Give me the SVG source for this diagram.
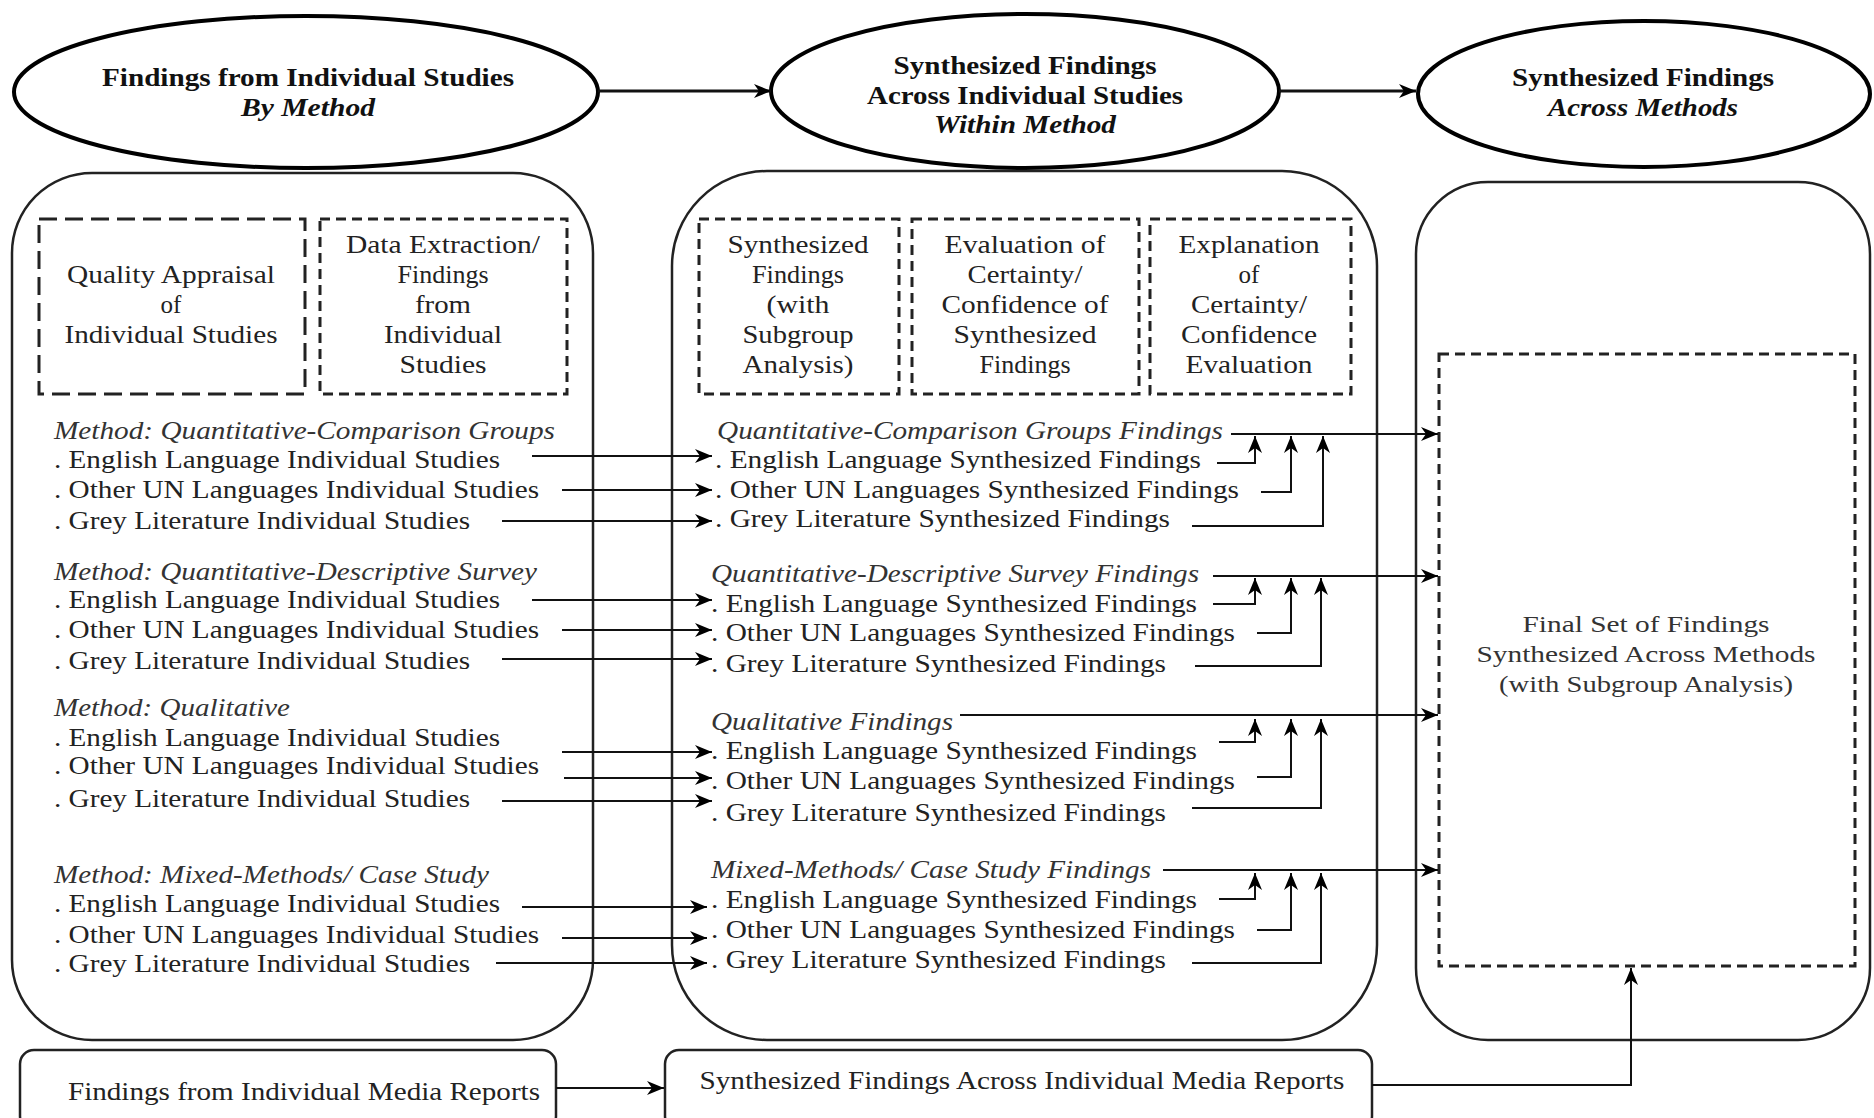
<svg xmlns="http://www.w3.org/2000/svg" width="1874" height="1118" viewBox="0 0 1874 1118" font-family="'Liberation Serif', 'DejaVu Serif', serif">
<defs>
<style>
text{font-family:'Liberation Serif','DejaVu Serif','Noto Serif',serif;font-size:25px;fill:#222}
.hb{font-weight:bold;font-size:26px;text-anchor:middle;fill:#111}
.hi{font-weight:bold;font-style:italic}
.c{text-anchor:middle}
.i{font-style:italic;fill:#333}
.fin{font-size:24px;text-anchor:middle;fill:#333}
.ell{fill:#fff;stroke:#000;stroke-width:4}
.rr{fill:none;stroke:#222;stroke-width:2.5}
.d1{fill:none;stroke:#222;stroke-width:3;stroke-dasharray:18 8}
.d2{fill:none;stroke:#222;stroke-width:3;stroke-dasharray:10 6}
.cn{fill:none;stroke:#111;stroke-width:2}
</style>
<marker id="ah" markerUnits="userSpaceOnUse" markerWidth="18" markerHeight="14" refX="17" refY="7" orient="auto">
<path d="M0,0 L17,7 L0,14 L5,7 Z" fill="#000"/>
</marker>
</defs>
<rect width="1874" height="1118" fill="#fff"/>

<g id="node-individual-header">
<ellipse class="ell" cx="306" cy="92" rx="292" ry="76"/>
<text class="hb" x="308" y="86" textLength="412" lengthAdjust="spacingAndGlyphs">Findings from Individual Studies</text>
<text class="hb hi" x="308" y="116" textLength="134" lengthAdjust="spacingAndGlyphs">By Method</text>
</g>
<g id="node-within-header">
<ellipse class="ell" cx="1025" cy="91" rx="254" ry="77"/>
<text class="hb" x="1025" y="74" textLength="263" lengthAdjust="spacingAndGlyphs">Synthesized Findings</text>
<text class="hb" x="1025" y="104" textLength="316" lengthAdjust="spacingAndGlyphs">Across Individual Studies</text>
<text class="hb hi" x="1025" y="133" textLength="182" lengthAdjust="spacingAndGlyphs">Within Method</text>
</g>
<g id="node-across-header">
<ellipse class="ell" cx="1644" cy="94" rx="226" ry="73"/>
<text class="hb" x="1643" y="86" textLength="262" lengthAdjust="spacingAndGlyphs">Synthesized Findings</text>
<text class="hb hi" x="1643" y="116" textLength="190" lengthAdjust="spacingAndGlyphs">Across Methods</text>
</g>

<g id="node-individual-panel">
<rect class="rr" x="12" y="173" width="581" height="867" rx="80" ry="80"/>
<rect class="d1" x="39" y="219" width="266" height="175"/>
<text class="c" x="171" y="283" textLength="208" lengthAdjust="spacingAndGlyphs">Quality Appraisal</text>
<text class="c" x="171" y="313">of</text>
<text class="c" x="171" y="343" textLength="213" lengthAdjust="spacingAndGlyphs">Individual Studies</text>
<rect class="d2" x="320" y="219" width="247" height="175"/>
<text class="c" x="443" y="253" textLength="194" lengthAdjust="spacingAndGlyphs">Data Extraction/</text>
<text class="c" x="443" y="283" textLength="91" lengthAdjust="spacingAndGlyphs">Findings</text>
<text class="c" x="443" y="313" textLength="56" lengthAdjust="spacingAndGlyphs">from</text>
<text class="c" x="443" y="343" textLength="118" lengthAdjust="spacingAndGlyphs">Individual</text>
<text class="c" x="443" y="373" textLength="87" lengthAdjust="spacingAndGlyphs">Studies</text>
<text class="i" x="54" y="439" textLength="501" lengthAdjust="spacingAndGlyphs">Method: Quantitative-Comparison Groups</text>
<text x="54" y="468" textLength="446" lengthAdjust="spacingAndGlyphs">. English Language Individual Studies</text>
<text x="54" y="498" textLength="485" lengthAdjust="spacingAndGlyphs">. Other UN Languages Individual Studies</text>
<text x="54" y="529" textLength="416" lengthAdjust="spacingAndGlyphs">. Grey Literature Individual Studies</text>
<text class="i" x="54" y="580" textLength="483" lengthAdjust="spacingAndGlyphs">Method: Quantitative-Descriptive Survey</text>
<text x="54" y="608" textLength="446" lengthAdjust="spacingAndGlyphs">. English Language Individual Studies</text>
<text x="54" y="638" textLength="485" lengthAdjust="spacingAndGlyphs">. Other UN Languages Individual Studies</text>
<text x="54" y="669" textLength="416" lengthAdjust="spacingAndGlyphs">. Grey Literature Individual Studies</text>
<text class="i" x="54" y="716" textLength="236" lengthAdjust="spacingAndGlyphs">Method: Qualitative</text>
<text x="54" y="746" textLength="446" lengthAdjust="spacingAndGlyphs">. English Language Individual Studies</text>
<text x="54" y="774" textLength="485" lengthAdjust="spacingAndGlyphs">. Other UN Languages Individual Studies</text>
<text x="54" y="807" textLength="416" lengthAdjust="spacingAndGlyphs">. Grey Literature Individual Studies</text>
<text class="i" x="54" y="883" textLength="435" lengthAdjust="spacingAndGlyphs">Method: Mixed-Methods/ Case Study</text>
<text x="54" y="912" textLength="446" lengthAdjust="spacingAndGlyphs">. English Language Individual Studies</text>
<text x="54" y="943" textLength="485" lengthAdjust="spacingAndGlyphs">. Other UN Languages Individual Studies</text>
<text x="54" y="972" textLength="416" lengthAdjust="spacingAndGlyphs">. Grey Literature Individual Studies</text>
</g>

<g id="node-within-panel">
<rect class="rr" x="672" y="171" width="705" height="869" rx="95" ry="95"/>
<rect class="d2" x="699" y="219" width="200" height="175"/>
<text class="c" x="798" y="253" textLength="141" lengthAdjust="spacingAndGlyphs">Synthesized</text>
<text class="c" x="798" y="283" textLength="92" lengthAdjust="spacingAndGlyphs">Findings</text>
<text class="c" x="798" y="313" textLength="63" lengthAdjust="spacingAndGlyphs">(with</text>
<text class="c" x="798" y="343" textLength="111" lengthAdjust="spacingAndGlyphs">Subgroup</text>
<text class="c" x="798" y="373" textLength="111" lengthAdjust="spacingAndGlyphs">Analysis)</text>
<rect class="d2" x="912" y="219" width="227" height="175"/>
<text class="c" x="1025" y="253" textLength="161" lengthAdjust="spacingAndGlyphs">Evaluation of</text>
<text class="c" x="1025" y="283" textLength="115" lengthAdjust="spacingAndGlyphs">Certainty/</text>
<text class="c" x="1025" y="313" textLength="167" lengthAdjust="spacingAndGlyphs">Confidence of</text>
<text class="c" x="1025" y="343" textLength="143" lengthAdjust="spacingAndGlyphs">Synthesized</text>
<text class="c" x="1025" y="373" textLength="91" lengthAdjust="spacingAndGlyphs">Findings</text>
<rect class="d2" x="1150" y="219" width="201" height="175"/>
<text class="c" x="1249" y="253" textLength="141" lengthAdjust="spacingAndGlyphs">Explanation</text>
<text class="c" x="1249" y="283">of</text>
<text class="c" x="1249" y="313" textLength="116" lengthAdjust="spacingAndGlyphs">Certainty/</text>
<text class="c" x="1249" y="343" textLength="136" lengthAdjust="spacingAndGlyphs">Confidence</text>
<text class="c" x="1249" y="373" textLength="127" lengthAdjust="spacingAndGlyphs">Evaluation</text>
<text class="i" x="717" y="439" textLength="506" lengthAdjust="spacingAndGlyphs">Quantitative-Comparison Groups Findings</text>
<text x="715" y="468" textLength="486" lengthAdjust="spacingAndGlyphs">. English Language Synthesized Findings</text>
<text x="715" y="498" textLength="524" lengthAdjust="spacingAndGlyphs">. Other UN Languages Synthesized Findings</text>
<text x="715" y="527" textLength="455" lengthAdjust="spacingAndGlyphs">. Grey Literature Synthesized Findings</text>
<text class="i" x="711" y="582" textLength="488" lengthAdjust="spacingAndGlyphs">Quantitative-Descriptive Survey Findings</text>
<text x="711" y="612" textLength="486" lengthAdjust="spacingAndGlyphs">. English Language Synthesized Findings</text>
<text x="711" y="641" textLength="524" lengthAdjust="spacingAndGlyphs">. Other UN Languages Synthesized Findings</text>
<text x="711" y="672" textLength="455" lengthAdjust="spacingAndGlyphs">. Grey Literature Synthesized Findings</text>
<text class="i" x="711" y="730" textLength="242" lengthAdjust="spacingAndGlyphs">Qualitative Findings</text>
<text x="711" y="759" textLength="486" lengthAdjust="spacingAndGlyphs">. English Language Synthesized Findings</text>
<text x="711" y="789" textLength="524" lengthAdjust="spacingAndGlyphs">. Other UN Languages Synthesized Findings</text>
<text x="711" y="821" textLength="455" lengthAdjust="spacingAndGlyphs">. Grey Literature Synthesized Findings</text>
<text class="i" x="711" y="878" textLength="440" lengthAdjust="spacingAndGlyphs">Mixed-Methods/ Case Study Findings</text>
<text x="711" y="908" textLength="486" lengthAdjust="spacingAndGlyphs">. English Language Synthesized Findings</text>
<text x="711" y="938" textLength="524" lengthAdjust="spacingAndGlyphs">. Other UN Languages Synthesized Findings</text>
<text x="711" y="968" textLength="455" lengthAdjust="spacingAndGlyphs">. Grey Literature Synthesized Findings</text>
</g>

<g id="node-across-panel">
<rect class="rr" x="1416" y="182" width="454" height="858" rx="72" ry="72"/>
<rect class="d2" x="1439" y="354" width="416" height="612"/>
<text class="fin" x="1646" y="632" textLength="247" lengthAdjust="spacingAndGlyphs">Final Set of Findings</text>
<text class="fin" x="1646" y="662" textLength="339" lengthAdjust="spacingAndGlyphs">Synthesized Across Methods</text>
<text class="fin" x="1646" y="692" textLength="294" lengthAdjust="spacingAndGlyphs">(with Subgroup Analysis)</text>
</g>

<g id="node-media-individual">
<rect class="rr" x="20" y="1050" width="536" height="80" rx="14" ry="14"/>
<text class="c" x="304" y="1100" textLength="472" lengthAdjust="spacingAndGlyphs">Findings from Individual Media Reports</text>
</g>
<g id="node-media-synth">
<rect class="rr" x="665" y="1050" width="707" height="80" rx="14" ry="14"/>
<text class="c" x="1022" y="1089" textLength="645" lengthAdjust="spacingAndGlyphs">Synthesized Findings Across Individual Media Reports</text>
</g>

<g id="connectors">
<path class="cn" style="stroke-width:3" d="M598,91 H771" marker-end="url(#ah)"/>
<path class="cn" style="stroke-width:3" d="M1279,91 H1416" marker-end="url(#ah)"/>

<path class="cn" d="M532,456 H712" marker-end="url(#ah)"/>
<path class="cn" d="M562,490 H712" marker-end="url(#ah)"/>
<path class="cn" d="M502,521 H712" marker-end="url(#ah)"/>
<path class="cn" d="M532,600 H712" marker-end="url(#ah)"/>
<path class="cn" d="M562,630 H712" marker-end="url(#ah)"/>
<path class="cn" d="M502,659 H712" marker-end="url(#ah)"/>
<path class="cn" d="M562,752 H712" marker-end="url(#ah)"/>
<path class="cn" d="M564,778 H712" marker-end="url(#ah)"/>
<path class="cn" d="M502,801 H712" marker-end="url(#ah)"/>
<path class="cn" d="M522,907 H707" marker-end="url(#ah)"/>
<path class="cn" d="M562,938 H707" marker-end="url(#ah)"/>
<path class="cn" d="M496,963 H707" marker-end="url(#ah)"/>

<path class="cn" d="M1231,434 H1438" marker-end="url(#ah)"/>
<path class="cn" d="M1213,576 H1438" marker-end="url(#ah)"/>
<path class="cn" d="M960,715 H1438" marker-end="url(#ah)"/>
<path class="cn" d="M1163,870 H1438" marker-end="url(#ah)"/>

<path class="cn" d="M1217,463 H1255 V436" marker-end="url(#ah)"/>
<path class="cn" d="M1261,492 H1291 V436" marker-end="url(#ah)"/>
<path class="cn" d="M1192,526 H1323 V436" marker-end="url(#ah)"/>
<path class="cn" d="M1213,604 H1255 V578" marker-end="url(#ah)"/>
<path class="cn" d="M1257,633 H1291 V578" marker-end="url(#ah)"/>
<path class="cn" d="M1195,666 H1321 V578" marker-end="url(#ah)"/>
<path class="cn" d="M1219,742 H1255 V719" marker-end="url(#ah)"/>
<path class="cn" d="M1257,777 H1291 V719" marker-end="url(#ah)"/>
<path class="cn" d="M1192,808 H1321 V719" marker-end="url(#ah)"/>
<path class="cn" d="M1219,899 H1255 V873" marker-end="url(#ah)"/>
<path class="cn" d="M1257,930 H1291 V873" marker-end="url(#ah)"/>
<path class="cn" d="M1192,963 H1321 V873" marker-end="url(#ah)"/>

<path class="cn" d="M556,1088 H664" marker-end="url(#ah)"/>
<path class="cn" d="M1372,1085 H1631 V968" marker-end="url(#ah)"/>
</g>
</svg>
